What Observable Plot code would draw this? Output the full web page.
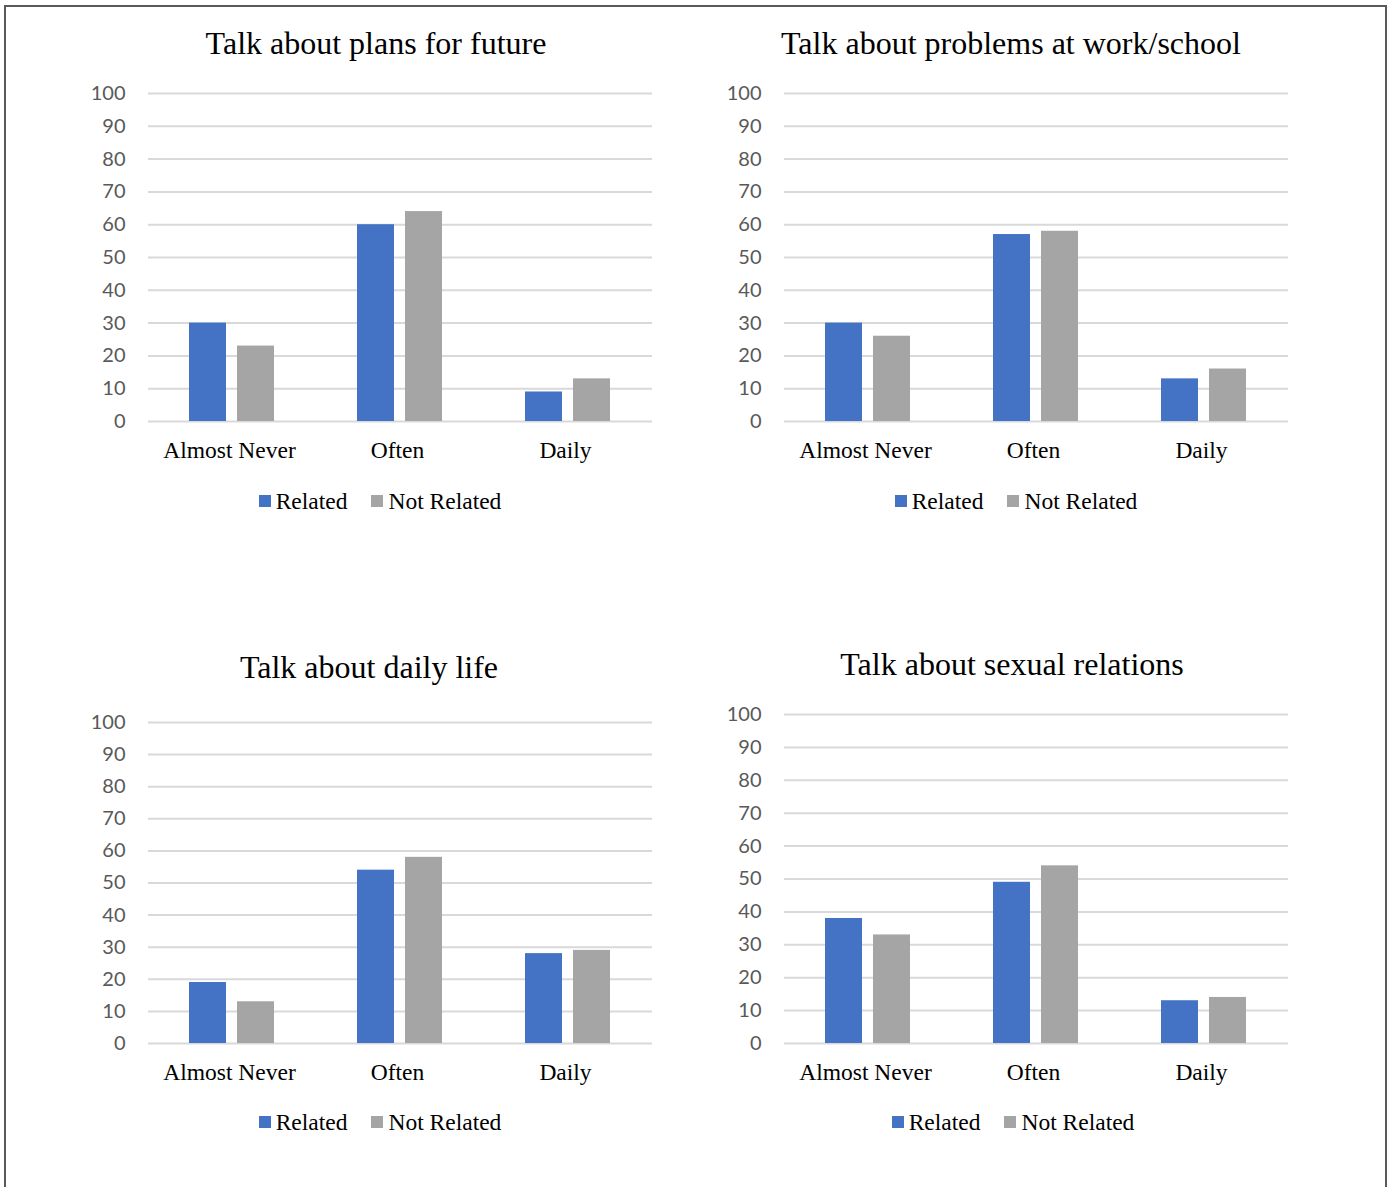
<!DOCTYPE html>
<html>
<head>
<meta charset="utf-8">
<script src="https://cdn.jsdelivr.net/npm/d3@7"></script>
<script src="https://cdn.jsdelivr.net/npm/@observablehq/plot@0.6"></script>
<style>
  html, body { margin: 0; padding: 0; background: #fff; width: 1389px; height: 1187px; overflow: hidden; position: relative; }
  .frame { position: absolute; left: 4px; top: 5px; width: 1383px; height: 1220px; border: 2px solid #595959; box-sizing: border-box; }
  .title { position: absolute; width: 700px; text-align: center; font-family: "Liberation Serif", "Times New Roman", serif; font-size: 32px; line-height: 32px; color: #000; white-space: nowrap; }
  .legend { position: absolute; width: 400px; display: flex; justify-content: center; align-items: center; height: 24px; font-family: "Liberation Serif", "Times New Roman", serif; font-size: 23.5px; line-height: 24px; color: #000; white-space: nowrap; }
  .legend .item { display: flex; align-items: center; }
  .legend .item + .item { margin-left: 24px; }
  .legend .sw { width: 12px; height: 12px; margin-right: 5px; display: inline-block; }
  .chart { position: absolute; }
</style>
</head>
<body>
<div class="frame"></div>
<script>
// ---- Data ----
const categories = ["Almost Never", "Often", "Daily"];
const seriesNames = ["Related", "Not Related"];
const seriesColors = ["#4472C4", "#A5A5A5"];
const yTicks = [0, 10, 20, 30, 40, 50, 60, 70, 80, 90, 100];

const titles = [
  "Talk about plans for future",
  "Talk about problems at work/school",
  "Talk about daily life",
  "Talk about sexual relations"
];

const plansRelated = [30, 60, 9];
const plansNotRelated = [23, 64, 13];
const problemsRelated = [30, 57, 13];
const problemsNotRelated = [26, 58, 16];
const dailyRelated = [19, 54, 28];
const dailyNotRelated = [13, 58, 29];
const sexualRelated = [38, 49, 13];
const sexualNotRelated = [33, 54, 14];

const panelValues = [
  [plansRelated, plansNotRelated],
  [problemsRelated, problemsNotRelated],
  [dailyRelated, dailyNotRelated],
  [sexualRelated, sexualNotRelated]
];

// ---- Layout (page positions) ----
const layout = [
  { left: 147, top: 93,  plotH: 328, titleCx: 376,  titleY: 27,  legendCx: 380,  legendY: 489 },
  { left: 783, top: 93,  plotH: 328, titleCx: 1011, titleY: 27,  legendCx: 1016, legendY: 489 },
  { left: 147, top: 722, plotH: 321, titleCx: 369,  titleY: 651, legendCx: 380,  legendY: 1110 },
  { left: 783, top: 714, plotH: 329, titleCx: 1012, titleY: 648, legendCx: 1013, legendY: 1110 }
];

const plotW = 505;
const mL = 107, mR = 20, mT = 20, mB = 50;

panelValues.forEach((vals, i) => {
  const L = layout[i];
  const rows = [];
  categories.forEach((c, ci) => {
    seriesNames.forEach((s, si) => {
      rows.push({ category: c, series: s, value: vals[si][ci] });
    });
  });

  const chart = Plot.plot({
    width: mL + plotW + mR,
    height: mT + L.plotH + mB,
    marginLeft: mL,
    marginRight: mR,
    marginTop: mT,
    marginBottom: mB,
    style: { fontFamily: "Lato, 'Open Sans', sans-serif", fontSize: "20px", background: "transparent", overflow: "visible" },
    fx: { domain: categories, paddingInner: 0, paddingOuter: 0, label: null, axis: null },
    x: { domain: seriesNames, paddingInner: 0.224, paddingOuter: 0.83, axis: null },
    y: { domain: [0, 100], axis: null },
    color: { domain: seriesNames, range: seriesColors },
    marks: [
      Plot.gridY({ ticks: yTicks, stroke: "#d9d9d9", strokeOpacity: 1, strokeWidth: 2 }),
      Plot.barY(rows, { fx: "category", x: "series", y: "value", fill: "series" }),
      Plot.axisY({ ticks: yTicks, tickSize: 0, tickPadding: 23, tickFormat: d3.format("d"), color: "#595959", fontSize: 20, label: null }),
      Plot.axisFx({ anchor: "bottom", tickSize: 0, tickPadding: 20, dx: -3, label: null, color: "#000", fontSize: 23.5, fontFamily: "'Liberation Serif', 'Times New Roman', serif" })
    ]
  });
  chart.classList.add("chart");
  chart.style.left = (L.left - mL) + "px";
  chart.style.top = (L.top - mT) + "px";
  chart.style.position = "absolute";
  document.body.appendChild(chart);

  const t = document.createElement("div");
  t.className = "title";
  t.textContent = titles[i];
  t.style.left = (L.titleCx - 350) + "px";
  t.style.top = L.titleY + "px";
  document.body.appendChild(t);

  const lg = document.createElement("div");
  lg.className = "legend";
  lg.style.left = (L.legendCx - 200) + "px";
  lg.style.top = L.legendY + "px";
  seriesNames.forEach((s, si) => {
    const item = document.createElement("span");
    item.className = "item";
    const sw = document.createElement("span");
    sw.className = "sw";
    sw.style.background = seriesColors[si];
    const tx = document.createElement("span");
    tx.textContent = s;
    item.appendChild(sw);
    item.appendChild(tx);
    lg.appendChild(item);
  });
  document.body.appendChild(lg);
});
</script>
</body>
</html>
